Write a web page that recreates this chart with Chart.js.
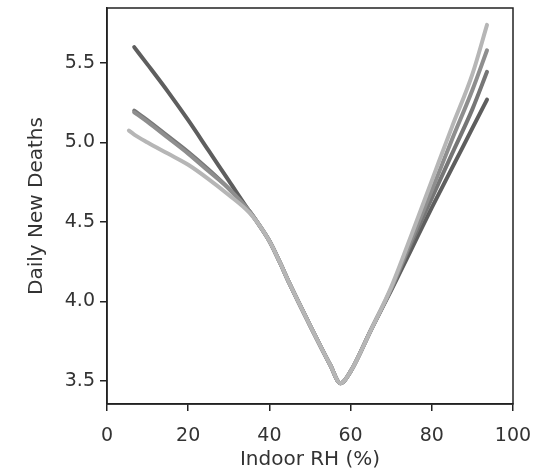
<!DOCTYPE html>
<html lang="en">
<head>
    <meta charset="UTF-8">
    <title>Daily New Deaths vs Indoor RH</title>
    <script src="https://cdn.jsdelivr.net/npm/chart.js"></script>
    <style>
        html, body { margin: 0; padding: 0; background: #fff; }
        canvas { display: block; }
    </style>
</head>
<body>
    <canvas id="rhChart" width="552" height="472"></canvas>

    <script>
        // Indoor RH (%) sample points
        const rhValues = [6.7, 10, 15, 20, 25, 30, 35, 37.5, 40, 42.5, 45, 50, 55, 57.5, 60, 65, 70, 75, 80, 85, 90, 93.6];
        const rhValuesLight = [5.4, 6.7, 10, 15, 20, 25, 30, 35, 37.5, 40, 42.5, 45, 50, 55, 57.5, 60, 65, 70, 75, 80, 85, 90, 93.6];

        // Daily new deaths, one curve per shade (darkest -> lightest)
        const deathsDark   = [5.60, 5.49, 5.32, 5.14, 4.95, 4.76, 4.57, 4.48, 4.38, 4.25, 4.11, 3.85, 3.60, 3.485, 3.56, 3.82, 4.07, 4.33, 4.59, 4.84, 5.09, 5.27];
        const deathsMid1   = [5.20, 5.14, 5.04, 4.94, 4.83, 4.71, 4.57, 4.48, 4.38, 4.25, 4.11, 3.85, 3.60, 3.485, 3.56, 3.82, 4.08, 4.37, 4.65, 4.93, 5.21, 5.445];
        const deathsMid2   = [5.19, 5.13, 5.03, 4.93, 4.82, 4.71, 4.57, 4.48, 4.38, 4.25, 4.11, 3.85, 3.60, 3.485, 3.56, 3.82, 4.08, 4.39, 4.70, 5.02, 5.33, 5.58];
        const deathsLight  = [5.075, 5.05, 5.00, 4.93, 4.86, 4.77, 4.67, 4.56, 4.48, 4.38, 4.25, 4.11, 3.85, 3.60, 3.485, 3.56, 3.82, 4.09, 4.42, 4.76, 5.10, 5.43, 5.74];

        const xTicks = [0, 20, 40, 60, 80, 100];
        const yTicks = [3.5, 4.0, 4.5, 5.0, 5.5];

        function toPoints(xs, ys) {
            return xs.map((x, i) => ({ x: x, y: ys[i] }));
        }

        function curve(xs, ys, color) {
            return {
                data: toPoints(xs, ys),
                borderColor: color,
                borderWidth: 4,
                borderCapStyle: 'round',
                borderJoinStyle: 'round',
                pointRadius: 0,
                fill: false,
                cubicInterpolationMode: 'monotone'
            };
        }

        // draws the top and right spines
        const boxPlugin = {
            id: 'box',
            afterDraw(chart) {
                const a = chart.chartArea;
                const ctx = chart.ctx;
                ctx.save();
                ctx.strokeStyle = '#222';
                ctx.lineWidth = 1.5;
                ctx.strokeRect(a.left, a.top, a.right - a.left, a.bottom - a.top);
                ctx.restore();
            }
        };

        const tickFont = { family: 'DejaVu Sans', size: 19 };
        const titleFont = { family: 'DejaVu Sans', size: 20 };

        new Chart(document.getElementById('rhChart'), {
            type: 'line',
            data: {
                datasets: [
                    curve(rhValuesLight, deathsLight, '#b6b6b6'),
                    curve(rhValues, deathsMid2, '#8e8e8e'),
                    curve(rhValues, deathsMid1, '#767676'),
                    curve(rhValues, deathsDark, '#5e5e5e')
                ]
            },
            plugins: [boxPlugin],
            options: {
                responsive: false,
                animation: false,
                layout: { padding: { top: 8, right: 39, bottom: 0, left: 25 } },
                plugins: {
                    legend: { display: false },
                    tooltip: { enabled: false }
                },
                scales: {
                    x: {
                        type: 'linear',
                        min: 0,
                        max: 100,
                        afterBuildTicks: axis => { axis.ticks = xTicks.map(v => ({ value: v })); },
                        afterFit: axis => { axis.height = 68; },
                        ticks: { font: tickFont, color: '#333', padding: 14 },
                        grid: { drawOnChartArea: false, drawTicks: true, tickLength: 7, color: '#222', lineWidth: 1.5 },
                        border: { display: true, color: '#222', width: 1.5 },
                        title: { display: true, text: 'Indoor RH (%)', font: titleFont, color: '#333', padding: { top: 0, bottom: 0 } }
                    },
                    y: {
                        type: 'linear',
                        min: 3.355,
                        max: 5.846,
                        afterBuildTicks: axis => { axis.ticks = yTicks.map(v => ({ value: v })); },
                        afterFit: axis => { axis.width = 82; axis.paddingTop = 0; axis.paddingBottom = 0; },
                        ticks: { font: tickFont, color: '#333', padding: 5, callback: v => v.toFixed(1) },
                        grid: { drawOnChartArea: false, drawTicks: true, tickLength: 7, color: '#222', lineWidth: 1.5 },
                        border: { display: true, color: '#222', width: 1.5 },
                        title: { display: true, text: 'Daily New Deaths', font: titleFont, color: '#333', padding: { top: 0, bottom: 11 } }
                    }
                }
            }
        });
    </script>
</body>
</html>
